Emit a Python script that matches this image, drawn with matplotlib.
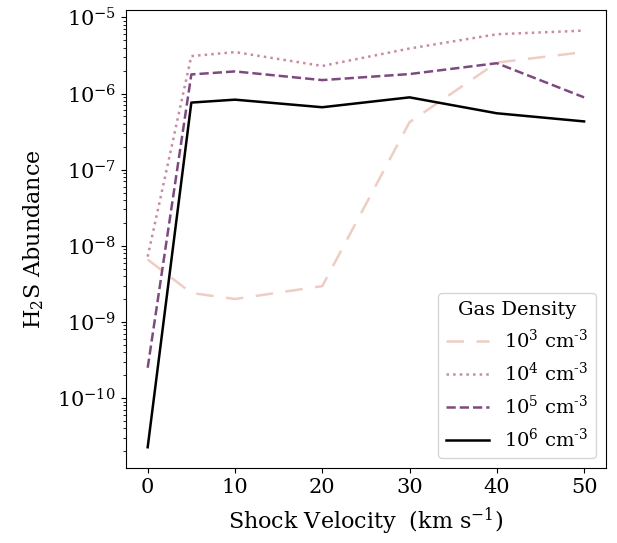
import numpy as np
import matplotlib
matplotlib.use('Agg')
import matplotlib.pyplot as plt

# shock velocities (km/s)
velocity = [0, 5, 10, 20, 30, 40, 50]

# H2S abundance for each gas density
h2s_1e3 = [6.6e-9, 2.4e-9, 2.0e-9, 2.95e-9, 4.2e-7, 2.55e-6, 3.5e-6]
h2s_1e4 = [7.2e-9, 3.1e-6, 3.5e-6, 2.3e-6, 3.9e-6, 6.0e-6, 6.7e-6]
h2s_1e5 = [2.5e-10, 1.78e-6, 1.95e-6, 1.5e-6, 1.8e-6, 2.5e-6, 8.9e-7]
h2s_1e6 = [2.26e-11, 7.6e-7, 8.3e-7, 6.6e-7, 8.9e-7, 5.5e-7, 4.3e-7]

labels = [r'$10^%d$ cm$^{\text{-}3}$' % p for p in (3, 4, 5, 6)]

plt.rcParams['font.family'] = 'DejaVu Serif'
plt.rcParams['mathtext.fontset'] = 'dejavuserif'
plt.rcParams['font.size'] = 14

fig, ax = plt.subplots(figsize=(6.17, 5.43), dpi=100)
fig.subplots_adjust(left=0.204, right=0.982, top=0.982, bottom=0.138)

ax.plot(velocity, h2s_1e3, color='#efcdc4', ls=(0, (7, 5)), lw=1.8, label=labels[0])
ax.plot(velocity, h2s_1e4, color='#c98aa6', ls=':', lw=1.8, label=labels[1])
ax.plot(velocity, h2s_1e5, color='#7d4a80', ls='--', lw=1.8, label=labels[2])
ax.plot(velocity, h2s_1e6, color='black', ls='-', lw=1.8, label=labels[3])

ax.set_yscale('log')
ax.set_xticks([0, 10, 20, 30, 40, 50])
ax.tick_params(axis='both', labelsize=15)
ax.set_xlabel(r'Shock Velocity  (km s$^{-1}$)', fontsize=16, labelpad=6)
ax.set_ylabel(r'H$_2$S Abundance', fontsize=16, labelpad=8)

leg = ax.legend(title='Gas Density', loc='lower right', fontsize=14,
                title_fontsize=14, handlelength=2.2)

fig.savefig('out.png', dpi=100)
